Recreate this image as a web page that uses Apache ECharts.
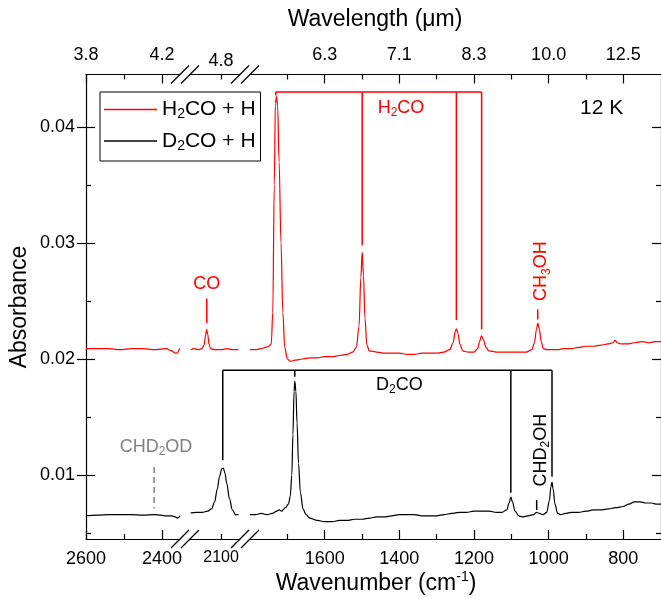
<!DOCTYPE html>
<html>
<head>
<meta charset="utf-8">
<script src="https://cdn.jsdelivr.net/npm/echarts@6/dist/echarts.min.js"></script>
<style>
  html, body { margin: 0; padding: 0; background: #fff; }
  #chart { width: 661px; height: 599px; }
</style>
</head>
<body>
<div id="chart"></div>
<script>
// spectra (wavenumber cm-1 / absorbance), one pair per axis segment
const redWnA = [2600, 2570, 2540, 2510, 2480, 2450, 2420, 2390, 2375, 2365, 2360, 2355, 2353]
const redAbsA = [0.0209, 0.0209, 0.0209, 0.0208, 0.0209, 0.0209, 0.0208, 0.0209, 0.0207, 0.0205, 0.0205, 0.0208, 0.0209]
const blackWnA = [2600, 2570, 2540, 2510, 2480, 2450, 2420, 2390, 2375, 2365, 2360, 2355, 2353]
const blackAbsA = [0.0065, 0.00655, 0.0066, 0.0066, 0.0066, 0.00655, 0.0066, 0.0065, 0.0065, 0.0064, 0.0063, 0.0064, 0.0065]

const redWnB = [2180, 2170, 2160, 2150, 2145, 2141, 2138, 2135, 2132, 2128, 2115, 2100, 2085, 2070, 2054]
const redAbsB = [0.0208, 0.0209, 0.0208, 0.0209, 0.0212, 0.0220, 0.02255, 0.0221, 0.0213, 0.0209, 0.0208, 0.0208, 0.0209, 0.0208, 0.0208]
const blackWnB = [2180, 2165, 2150, 2135, 2125, 2117, 2110, 2104, 2098, 2094, 2090, 2085, 2078, 2070, 2062, 2054]
const blackAbsB = [0.00675, 0.0068, 0.0068, 0.0069, 0.0071, 0.0077, 0.0088, 0.0099, 0.01055, 0.0106, 0.0102, 0.0093, 0.0080, 0.0070, 0.0066, 0.0066]

const redWnC = [1800, 1785, 1770, 1758, 1750, 1743, 1739, 1735, 1732, 1729, 1726, 1722, 1717, 1712, 1707, 1700, 1692, 1680, 1660, 1640, 1620, 1600, 1580, 1560, 1540, 1525, 1515, 1508, 1503, 1499.5, 1496, 1492, 1487, 1480, 1460, 1440, 1420, 1400, 1380, 1360, 1340, 1320, 1300, 1280, 1265, 1256, 1250, 1247, 1243, 1238, 1230, 1215, 1200, 1190, 1185, 1180, 1175, 1168, 1160, 1140, 1120, 1100, 1080, 1060, 1045, 1038, 1033, 1029, 1025, 1020, 1014, 1005, 990, 975, 960, 940, 920, 900, 880, 860, 840, 828, 822, 816, 808, 790, 770, 750, 730, 715, 699]
const redAbsC = [0.0208, 0.0208, 0.0209, 0.0210, 0.0211, 0.0213, 0.0240, 0.0350, 0.0420, 0.0426, 0.0418, 0.0370, 0.0300, 0.0240, 0.0210, 0.0200, 0.0198, 0.0199, 0.0200, 0.0201, 0.0201, 0.0202, 0.0202, 0.0203, 0.0204, 0.0206, 0.0210, 0.0228, 0.0270, 0.0292, 0.0272, 0.0235, 0.0212, 0.0207, 0.0206, 0.0205, 0.0205, 0.0205, 0.0204, 0.0204, 0.0205, 0.0205, 0.0205, 0.0206, 0.0208, 0.0214, 0.0224, 0.0226, 0.0222, 0.0213, 0.0207, 0.0206, 0.0206, 0.0209, 0.0215, 0.0220, 0.0217, 0.0210, 0.0207, 0.0206, 0.0206, 0.0206, 0.0206, 0.0206, 0.0208, 0.0214, 0.0225, 0.0231, 0.0226, 0.0215, 0.0209, 0.0208, 0.0208, 0.0208, 0.0209, 0.0209, 0.0210, 0.0211, 0.0211, 0.0212, 0.0213, 0.0214, 0.0216, 0.0214, 0.0213, 0.0213, 0.0214, 0.0215, 0.0214, 0.0215, 0.0215]
const blackWnC = [1800, 1785, 1770, 1755, 1740, 1728, 1722, 1715, 1705, 1697, 1692, 1688, 1685, 1682, 1680, 1677, 1674, 1670, 1665, 1658, 1650, 1640, 1620, 1600, 1580, 1560, 1540, 1520, 1500, 1480, 1460, 1440, 1420, 1400, 1380, 1360, 1340, 1320, 1300, 1280, 1260, 1240, 1220, 1200, 1180, 1160, 1140, 1125, 1112, 1106, 1101, 1097, 1090, 1080, 1070, 1055, 1040, 1032, 1025, 1015, 1005, 998, 994, 991, 988, 983, 976, 968, 955, 940, 920, 900, 880, 860, 840, 820, 800, 785, 770, 755, 740, 725, 710, 699]
const blackAbsC = [0.0066, 0.0066, 0.0067, 0.0066, 0.0067, 0.0069, 0.0070, 0.0069, 0.0072, 0.0075, 0.0082, 0.0100, 0.0135, 0.0172, 0.0181, 0.0172, 0.0145, 0.0110, 0.0085, 0.0071, 0.0066, 0.0063, 0.0061, 0.0060, 0.0060, 0.0061, 0.0061, 0.0062, 0.0062, 0.0063, 0.0064, 0.0064, 0.0065, 0.0066, 0.0066, 0.0066, 0.0065, 0.0065, 0.0065, 0.0066, 0.0067, 0.0068, 0.0068, 0.0069, 0.0069, 0.0069, 0.0068, 0.0068, 0.0070, 0.0076, 0.0081, 0.0077, 0.0069, 0.0065, 0.0064, 0.0065, 0.0066, 0.0068, 0.0067, 0.0066, 0.0068, 0.0078, 0.0090, 0.0094, 0.0088, 0.0075, 0.0067, 0.0066, 0.0067, 0.0068, 0.0068, 0.0069, 0.0070, 0.0070, 0.0071, 0.0072, 0.0073, 0.0075, 0.0077, 0.0077, 0.0076, 0.0076, 0.0075, 0.0075]

const seriesNames = ['H2CO + H', 'D2CO + H']
const legendLabels = ['{n|H}{s|2}{n|CO + H}', '{n|D}{s|2}{n|CO + H}']

// ticks
const bottomMajor = [2600, 2400, 2100, 1600, 1400, 1200, 1000, 800]
const bottomMinor = [2500, 1700, 1500, 1300, 1100, 900]
const topLabels = ['3.8', '4.2', '4.8', '6.3', '7.1', '8.3', '10.0', '12.5']
const yMajor = [0.01, 0.02, 0.03, 0.04]
const yMinor = [0.005, 0.015, 0.025, 0.035]

// band markers: [segment, wavenumber, absorbance]
const h2coLevel = 0.0430
const h2coBands = [[2, 1730.7, 0.0427], [2, 1499.5, 0.0298], [2, 1247.2, 0.02335], [2, 1179.5, 0.02255]]
const d2coLevel = 0.01904
const d2coBands = [[1, 2095.5, 0.01129], [2, 1680, 0.01847], [2, 1101.3, 0.00848], [2, 991, 0.00985]]

const RED = '#ff0000'
const FONT = 'Liberation Sans, Arial, sans-serif'

// broken x axis: three pieces
const segs = [
  { left: 86, width: 94, max: 2600, min: 2353 },
  { left: 190, width: 50, max: 2182, min: 2050, small: true },
  { left: 250, width: 413, max: 1800, min: 699 }
]
const yMin = 0.0045, yMax = 0.0445

const grids = [], xAxes = [], yAxes = [], series = []
const xMain = [], yMain = []

segs.forEach((s, i) => {
  grids.push({ left: s.left, width: s.width, top: 74.5, bottom: 60 })
  const inR = arr => arr.filter(v => v <= s.max && v >= s.min)
  const majors = inR(bottomMajor), minors = inR(bottomMinor)
  const base = {
    type: 'value', gridIndex: i, inverse: true, min: s.min, max: s.max,
    splitLine: { show: false }, axisLine: { onZero: false, lineStyle: { color: '#000', width: 1.2 } }
  }
  const tickLen = s.small ? 5 : 9
  xMain[i] = xAxes.length
  xAxes.push({
    ...base, position: 'bottom',
    axisTick: { inside: true, length: tickLen, customValues: majors, lineStyle: { color: '#000', width: 1.2 } },
    axisLabel: { customValues: majors, formatter: v => String(v), color: '#000', fontFamily: FONT, fontSize: s.small ? 16 : 18, margin: 11 }
  })
  xAxes.push({
    ...base, position: 'bottom', axisLine: { show: false, onZero: false },
    axisTick: { inside: true, length: 5, customValues: minors, lineStyle: { color: '#000', width: 1.2 } },
    axisLabel: { show: false }
  })
  xAxes.push({
    ...base, position: 'top',
    axisTick: { inside: true, length: tickLen, customValues: majors, lineStyle: { color: '#000', width: 1.2 } },
    axisLabel: {
      customValues: majors, color: '#000', fontFamily: FONT, fontSize: 18, margin: s.small ? 4 : 10,
      formatter: v => topLabels[bottomMajor.indexOf(v)]
    }
  })
  xAxes.push({
    ...base, position: 'top', axisLine: { show: false, onZero: false },
    axisTick: { inside: true, length: 5, customValues: minors, lineStyle: { color: '#000', width: 1.2 } },
    axisLabel: { show: false }
  })

  yMain[i] = yAxes.length
  yAxes.push({ type: 'value', gridIndex: i, min: yMin, max: yMax, show: false })

  const data = (wn, ab) => wn.map((w, k) => [w, ab[k]])
  const wnR = [redWnA, redWnB, redWnC][i], abR = [redAbsA, redAbsB, redAbsC][i]
  const wnK = [blackWnA, blackWnB, blackWnC][i], abK = [blackAbsA, blackAbsB, blackAbsC][i]
  ;[[seriesNames[0], RED, data(wnR, abR)], [seriesNames[1], '#000', data(wnK, abK)]].forEach(([name, color, d]) => {
    series.push({
      name, type: 'line', xAxisIndex: xMain[i], yAxisIndex: yMain[i], data: d,
      symbol: 'none', smooth: 0.35, smoothMonotone: 'x', color,
      lineStyle: { color, width: 1.2 }, animation: false
    })
  })
})

// left y axis (grid A) and right y axis (grid C)
const yBase = { type: 'value', min: yMin, max: yMax, splitLine: { show: false } }
const tickStyle = { color: '#000', width: 1.2 }
yAxes.push({
  ...yBase, gridIndex: 0, position: 'left',
  axisLine: { show: true, onZero: false, lineStyle: tickStyle },
  axisTick: { show: true, inside: false, length: 9, customValues: yMajor, lineStyle: tickStyle },
  axisLabel: { customValues: yMajor, formatter: v => v.toFixed(2), color: '#000', fontFamily: FONT, fontSize: 18, margin: 11 }
})
yAxes.push({
  ...yBase, gridIndex: 0, position: 'left', axisLine: { show: false, onZero: false },
  axisTick: { show: true, inside: true, length: 9, customValues: yMajor, lineStyle: tickStyle }, axisLabel: { show: false }
})
yAxes.push({
  ...yBase, gridIndex: 0, position: 'left', axisLine: { show: false, onZero: false },
  axisTick: { show: true, inside: true, length: 5, customValues: yMinor, lineStyle: tickStyle }, axisLabel: { show: false }
})
yAxes.push({
  ...yBase, gridIndex: 2, position: 'right',
  axisLine: { show: true, onZero: false, lineStyle: tickStyle },
  axisTick: { show: true, inside: true, length: 9, customValues: yMajor, lineStyle: tickStyle }, axisLabel: { show: false }
})
yAxes.push({
  ...yBase, gridIndex: 2, position: 'right', axisLine: { show: false, onZero: false },
  axisTick: { show: true, inside: true, length: 5, customValues: yMinor, lineStyle: tickStyle }, axisLabel: { show: false }
})

const chart = echarts.init(document.getElementById('chart'))
chart.setOption({
  animation: false,
  backgroundColor: '#fff',
  grid: grids,
  xAxis: xAxes,
  yAxis: yAxes,
  legend: {
    data: seriesNames,
    orient: 'vertical',
    left: 100, top: 92,
    padding: [7, 5, 8, 4],
    icon: 'rect',
    itemWidth: 53, itemHeight: 1.4, itemGap: 9,
    borderColor: '#000', borderWidth: 1,
    formatter: name => legendLabels[seriesNames.indexOf(name)],
    textStyle: {
      color: '#000',
      rich: {
        n: { fontFamily: FONT, fontSize: 21, lineHeight: 24, color: '#000' },
        s: { fontFamily: FONT, fontSize: 14, lineHeight: 14, verticalAlign: 'bottom', color: '#000' }
      }
    }
  },
  series
})

// annotations drawn from data coordinates
const px = (seg, wn, v) => chart.convertToPixel({ xAxisIndex: xMain[seg], yAxisIndex: yMain[seg] }, [wn, v])
const line = (p1, p2, color, dashed) => ({
  type: 'line', silent: true,
  shape: { x1: p1[0], y1: p1[1], x2: p2[0], y2: p2[1] },
  style: { stroke: color, lineWidth: 1.5, lineDash: dashed ? [6, 4] : null }
})
const bracket = (bands, level, color) => {
  const out = []
  const first = bands[0], last = bands[bands.length - 1]
  out.push(line(px(first[0], first[1], level), px(last[0], last[1], level), color))
  bands.forEach(b => out.push(line(px(b[0], b[1], level), px(b[0], b[1], b[2]), color)))
  return out
}
const label = (seg, wn, v, parts, color, size, rotate) => {
  const p = px(seg, wn, v)
  return {
    type: 'text', silent: true, x: p[0], y: p[1], rotation: rotate ? Math.PI / 2 : 0,
    style: {
      text: parts, align: 'center', verticalAlign: 'middle', fill: color,
      rich: {
        n: { fontFamily: FONT, fontSize: size, lineHeight: size + 4, fill: color },
        s: { fontFamily: FONT, fontSize: Math.round(size * 0.65), lineHeight: Math.round(size * 0.65), verticalAlign: 'bottom', fill: color }
      }
    }
  }
}

const g = []
g.push(...bracket(h2coBands, h2coLevel, RED))
g.push(...bracket(d2coBands, d2coLevel, '#000'))
g.push(line(px(1, 2137.6, 0.02522), px(1, 2137.6, 0.02307), RED))
g.push(line(px(2, 1029.3, 0.02427), px(2, 1029.3, 0.02341), RED))
g.push(line(px(2, 1032, 0.00785), px(2, 1032, 0.00699), '#000'))
g.push(line(px(0, 2421, 0.01071), px(0, 2421, 0.00713), '#808080', true))

g.push(label(2, 1395.5, 0.04161, '{n|H}{s|2}{n|CO}', RED, 18))
g.push(label(2, 858, 0.04161, '{n|12 K}', '#000', 21))
g.push(label(1, 2137.6, 0.02643, '{n|CO}', RED, 18))
g.push(label(2, 1019.5, 0.02757, '{n|CH}{s|3}{n|OH}', RED, 18, true))
g.push(label(2, 1400, 0.01775, '{n|D}{s|2}{n|CO}', '#000', 18))
g.push(label(2, 1020.5, 0.01215, '{n|CHD}{s|2}{n|OH}', '#000', 18, true))
g.push(label(0, 2416, 0.01241, '{n|CHD}{s|2}{n|OD}', '#808080', 18))

// axis titles
g.push({ type: 'text', silent: true, x: 375, y: 20, style: { text: 'Wavelength (μm)', align: 'center', verticalAlign: 'middle', fill: '#000', fontFamily: FONT, fontSize: 23 } })
g.push({ type: 'text', silent: true, x: 20, y: 307, rotation: Math.PI / 2, style: { text: 'Absorbance', align: 'center', verticalAlign: 'middle', fill: '#000', fontFamily: FONT, fontSize: 23 } })
g.push({
  type: 'text', silent: true, x: 376, y: 584,
  style: {
    text: '{n|Wavenumber (cm}{p|-1}{n|)}', align: 'center', verticalAlign: 'middle',
    rich: {
      n: { fontFamily: FONT, fontSize: 23, lineHeight: 28, fill: '#000' },
      p: { fontFamily: FONT, fontSize: 14, lineHeight: 14, verticalAlign: 'top', fill: '#000' }
    }
  }
})

// break marks on top and bottom axes
const gridTop = 74.5, gridBottom = 539
for (let i = 0; i < segs.length - 1; i++) {
  const xs = [segs[i].left + segs[i].width, segs[i + 1].left]
  xs.forEach(x => {
    ;[gridTop, gridBottom].forEach(y => {
      g.push({ type: 'line', silent: true, shape: { x1: x - 9, y1: y + 9, x2: x + 9, y2: y - 9 }, style: { stroke: '#000', lineWidth: 1.3 } })
    })
  })
}

chart.setOption({ graphic: g })
</script>
</body>
</html>
